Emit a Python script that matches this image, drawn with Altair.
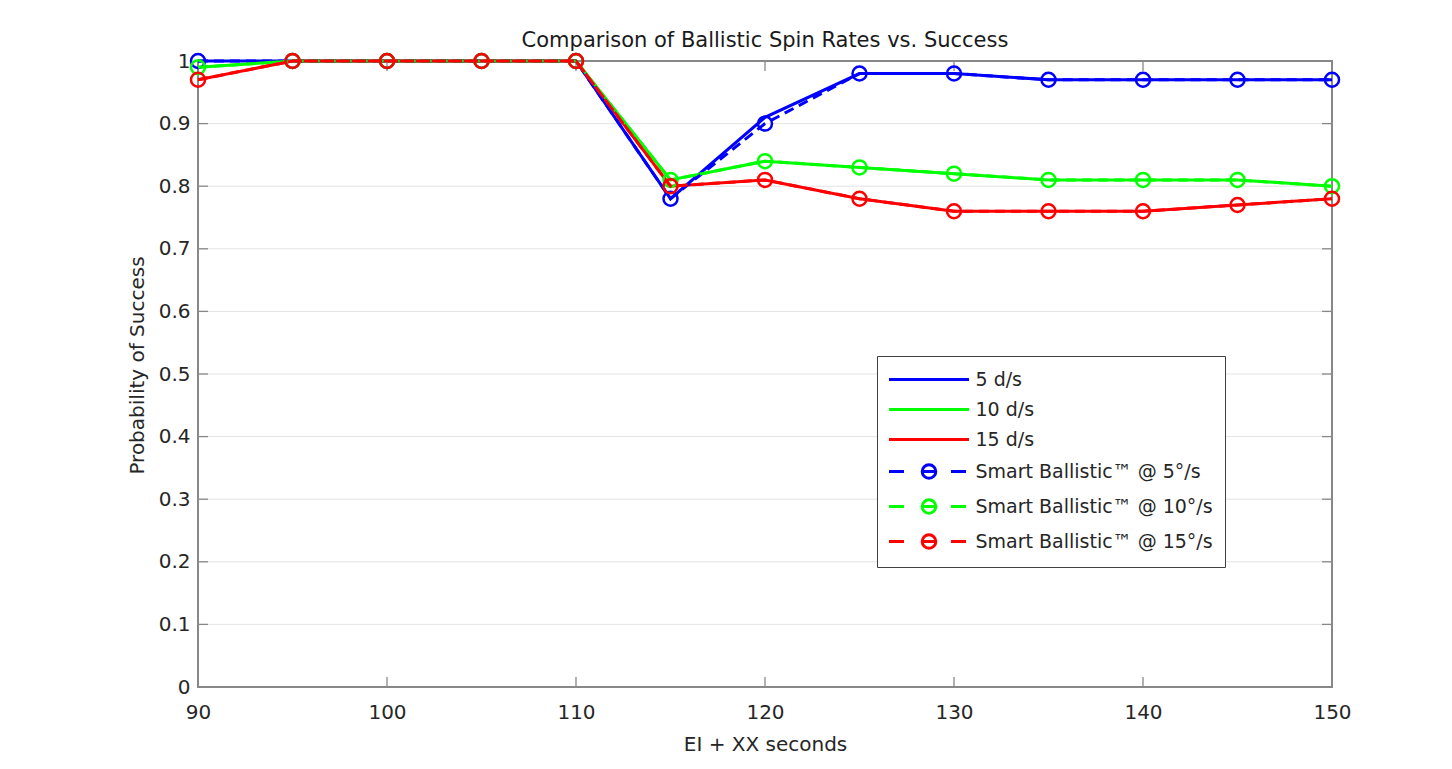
import altair as alt
import pandas as pd

# ---------------- data ----------------
x_seconds = [90, 95, 100, 105, 110, 115, 120, 125, 130, 135, 140, 145, 150]

rate_5 = [1.00, 1.00, 1.00, 1.00, 1.00, 0.78, 0.91, 0.98, 0.98, 0.97, 0.97, 0.97, 0.97]
rate_10 = [0.99, 1.00, 1.00, 1.00, 1.00, 0.81, 0.84, 0.83, 0.82, 0.81, 0.81, 0.81, 0.80]
rate_15 = [0.97, 1.00, 1.00, 1.00, 1.00, 0.80, 0.81, 0.78, 0.76, 0.76, 0.76, 0.77, 0.78]

smart_5 = [1.00, 1.00, 1.00, 1.00, 1.00, 0.78, 0.90, 0.98, 0.98, 0.97, 0.97, 0.97, 0.97]
smart_10 = [0.99, 1.00, 1.00, 1.00, 1.00, 0.81, 0.84, 0.83, 0.82, 0.81, 0.81, 0.81, 0.80]
smart_15 = [0.97, 1.00, 1.00, 1.00, 1.00, 0.80, 0.81, 0.78, 0.76, 0.76, 0.76, 0.77, 0.78]

solid_names = ["5 d/s", "10 d/s", "15 d/s"]
smart_names = ["Smart Ballistic™ @ 5°/s", "Smart Ballistic™ @ 10°/s", "Smart Ballistic™ @ 15°/s"]
series_names = solid_names + smart_names
series_colors = ["#0000ff", "#00ff00", "#ff0000", "#0000ff", "#00ff00", "#ff0000"]

x_tick_values = [90, 100, 110, 120, 130, 140, 150]
y_tick_values = [0, 0.1, 0.2, 0.3, 0.4, 0.5, 0.6, 0.7, 0.8, 0.9, 1]
grid_values = [0.1, 0.2, 0.3, 0.4, 0.5, 0.6, 0.7, 0.8, 0.9]

title_text = "Comparison of Ballistic Spin Rates vs. Success"
x_title = "EI + XX seconds"
y_title = "Probability of Success"

# ---------------- styling ----------------
W, H = 1134, 626
FONT = "DejaVu Sans"
TXT = "#262626"
AXIS_GRAY = "#888888"

x_scale = alt.Scale(domain=[90, 150], nice=False, zero=False)
y_scale = alt.Scale(domain=[0, 1], nice=False, zero=False)
color_scale = alt.Scale(domain=series_names, range=series_colors)

solid_path = "M-4,0H4"
smart_path = ("M-4,0H-2.5M-0.68,0A0.68,0.68,0,1,1,0.68,0A0.68,0.68,0,1,1,-0.68,0"
              "M-0.68,0H0.68M2.2,0H3.7")
shape_expr = "indexof(datum.value, 'Smart') >= 0 ? '%s' : '%s'" % (smart_path, solid_path)

legend = alt.Legend(
    title=None,
    orient="none",
    legendX=679,
    legendY=295,
    symbolType={"expr": shape_expr},
    symbolSize=400,
    symbolStrokeWidth=3,
    symbolOffset=28.5,
    symbolFillColor="transparent",
    labelOffset=35,
    labelFont=FONT,
    labelFontSize=19,
    labelColor=TXT,
    labelLimit=400,
    padding=12,
    rowPadding=8,
    fillColor="white",
    strokeColor="#404040",
)

x_axis = alt.Axis(
    values=x_tick_values, title=x_title, grid=False, ticks=False, tickSize=0,
    domain=False, labelPadding=15, labelFont=FONT, labelFontSize=20,
    labelColor=TXT, labelFlush=False, labelOverlap=False,
    titleFont=FONT, titleFontSize=20, titleFontWeight="normal", titleColor=TXT,
    titleY=47, titleBaseline="top",
)
y_axis = alt.Axis(
    values=y_tick_values, format="~g", title=y_title, grid=False, ticks=False,
    tickSize=0, domain=False, labelPadding=8, labelFont=FONT, labelFontSize=20,
    labelColor=TXT, labelFlush=False, labelOverlap=False,
    titleFont=FONT, titleFontSize=20, titleFontWeight="normal", titleColor=TXT,
    titleX=-54.5, titleY=304, titleBaseline="alphabetic", titleAlign="center",
    titleAngle=270,
)

layers = []

# horizontal grid
grid_df = pd.DataFrame({"g": grid_values})
layers.append(
    alt.Chart(grid_df).mark_rule(color="#e3e3e3", strokeWidth=1).encode(
        y=alt.Y("g:Q", scale=y_scale, axis=y_axis),
        x=alt.value(1), x2=alt.value(W - 1),
    )
)

# inward ticks
xt_df = pd.DataFrame({"v": x_tick_values})
yt_df = pd.DataFrame({"v": y_tick_values})
for y0, y1 in [(H, H - 10), (0, 10)]:
    layers.append(
        alt.Chart(xt_df).mark_rule(color=AXIS_GRAY, strokeWidth=1.3).encode(
            x=alt.X("v:Q", scale=x_scale, axis=x_axis),
            y=alt.value(y0), y2=alt.value(y1),
        )
    )
for x0, x1 in [(0, 10), (W, W - 10)]:
    layers.append(
        alt.Chart(yt_df).mark_rule(color=AXIS_GRAY, strokeWidth=1.3).encode(
            y=alt.Y("v:Q", scale=y_scale, axis=y_axis),
            x=alt.value(x0), x2=alt.value(x1),
        )
    )

# solid lines
for i, (name, vals) in enumerate(zip(solid_names, [rate_5, rate_10, rate_15])):
    d = pd.DataFrame({"t": x_seconds, "p": vals, "series": name})
    layers.append(
        alt.Chart(d).mark_line(strokeWidth=3).encode(
            x=alt.X("t:Q", scale=x_scale, axis=x_axis),
            y=alt.Y("p:Q", scale=y_scale, axis=y_axis),
            color=alt.Color("series:N", scale=color_scale,
                            legend=legend if i == 0 else None),
        )
    )

# dashed lines with open circle markers
for name, vals in zip(smart_names, [smart_5, smart_10, smart_15]):
    d = pd.DataFrame({"t": x_seconds, "p": vals, "series": name})
    enc = dict(
        x=alt.X("t:Q", scale=x_scale, axis=x_axis),
        y=alt.Y("p:Q", scale=y_scale, axis=y_axis),
        color=alt.Color("series:N", scale=color_scale, legend=None),
    )
    layers.append(alt.Chart(d).mark_line(strokeWidth=3, strokeDash=[10, 6]).encode(**enc))
    layers.append(
        alt.Chart(d).mark_point(shape="circle", filled=False, size=196,
                                strokeWidth=2.5, opacity=1).encode(**enc)
    )

chart = alt.layer(*layers).properties(
    width=W,
    height=H,
    title=alt.TitleParams(title_text, font=FONT, fontSize=21, fontWeight="normal",
                          color="#1a1a1a", offset=-2, frame="group", anchor="middle"),
    autosize=alt.AutoSizeParams(type="none"),
    padding={"left": 190, "top": 53, "right": 110, "bottom": 72},
    background="white",
).configure_view(stroke=AXIS_GRAY, strokeWidth=2)

chart.save("out.html", embed_options={"renderer": "svg", "actions": False})
